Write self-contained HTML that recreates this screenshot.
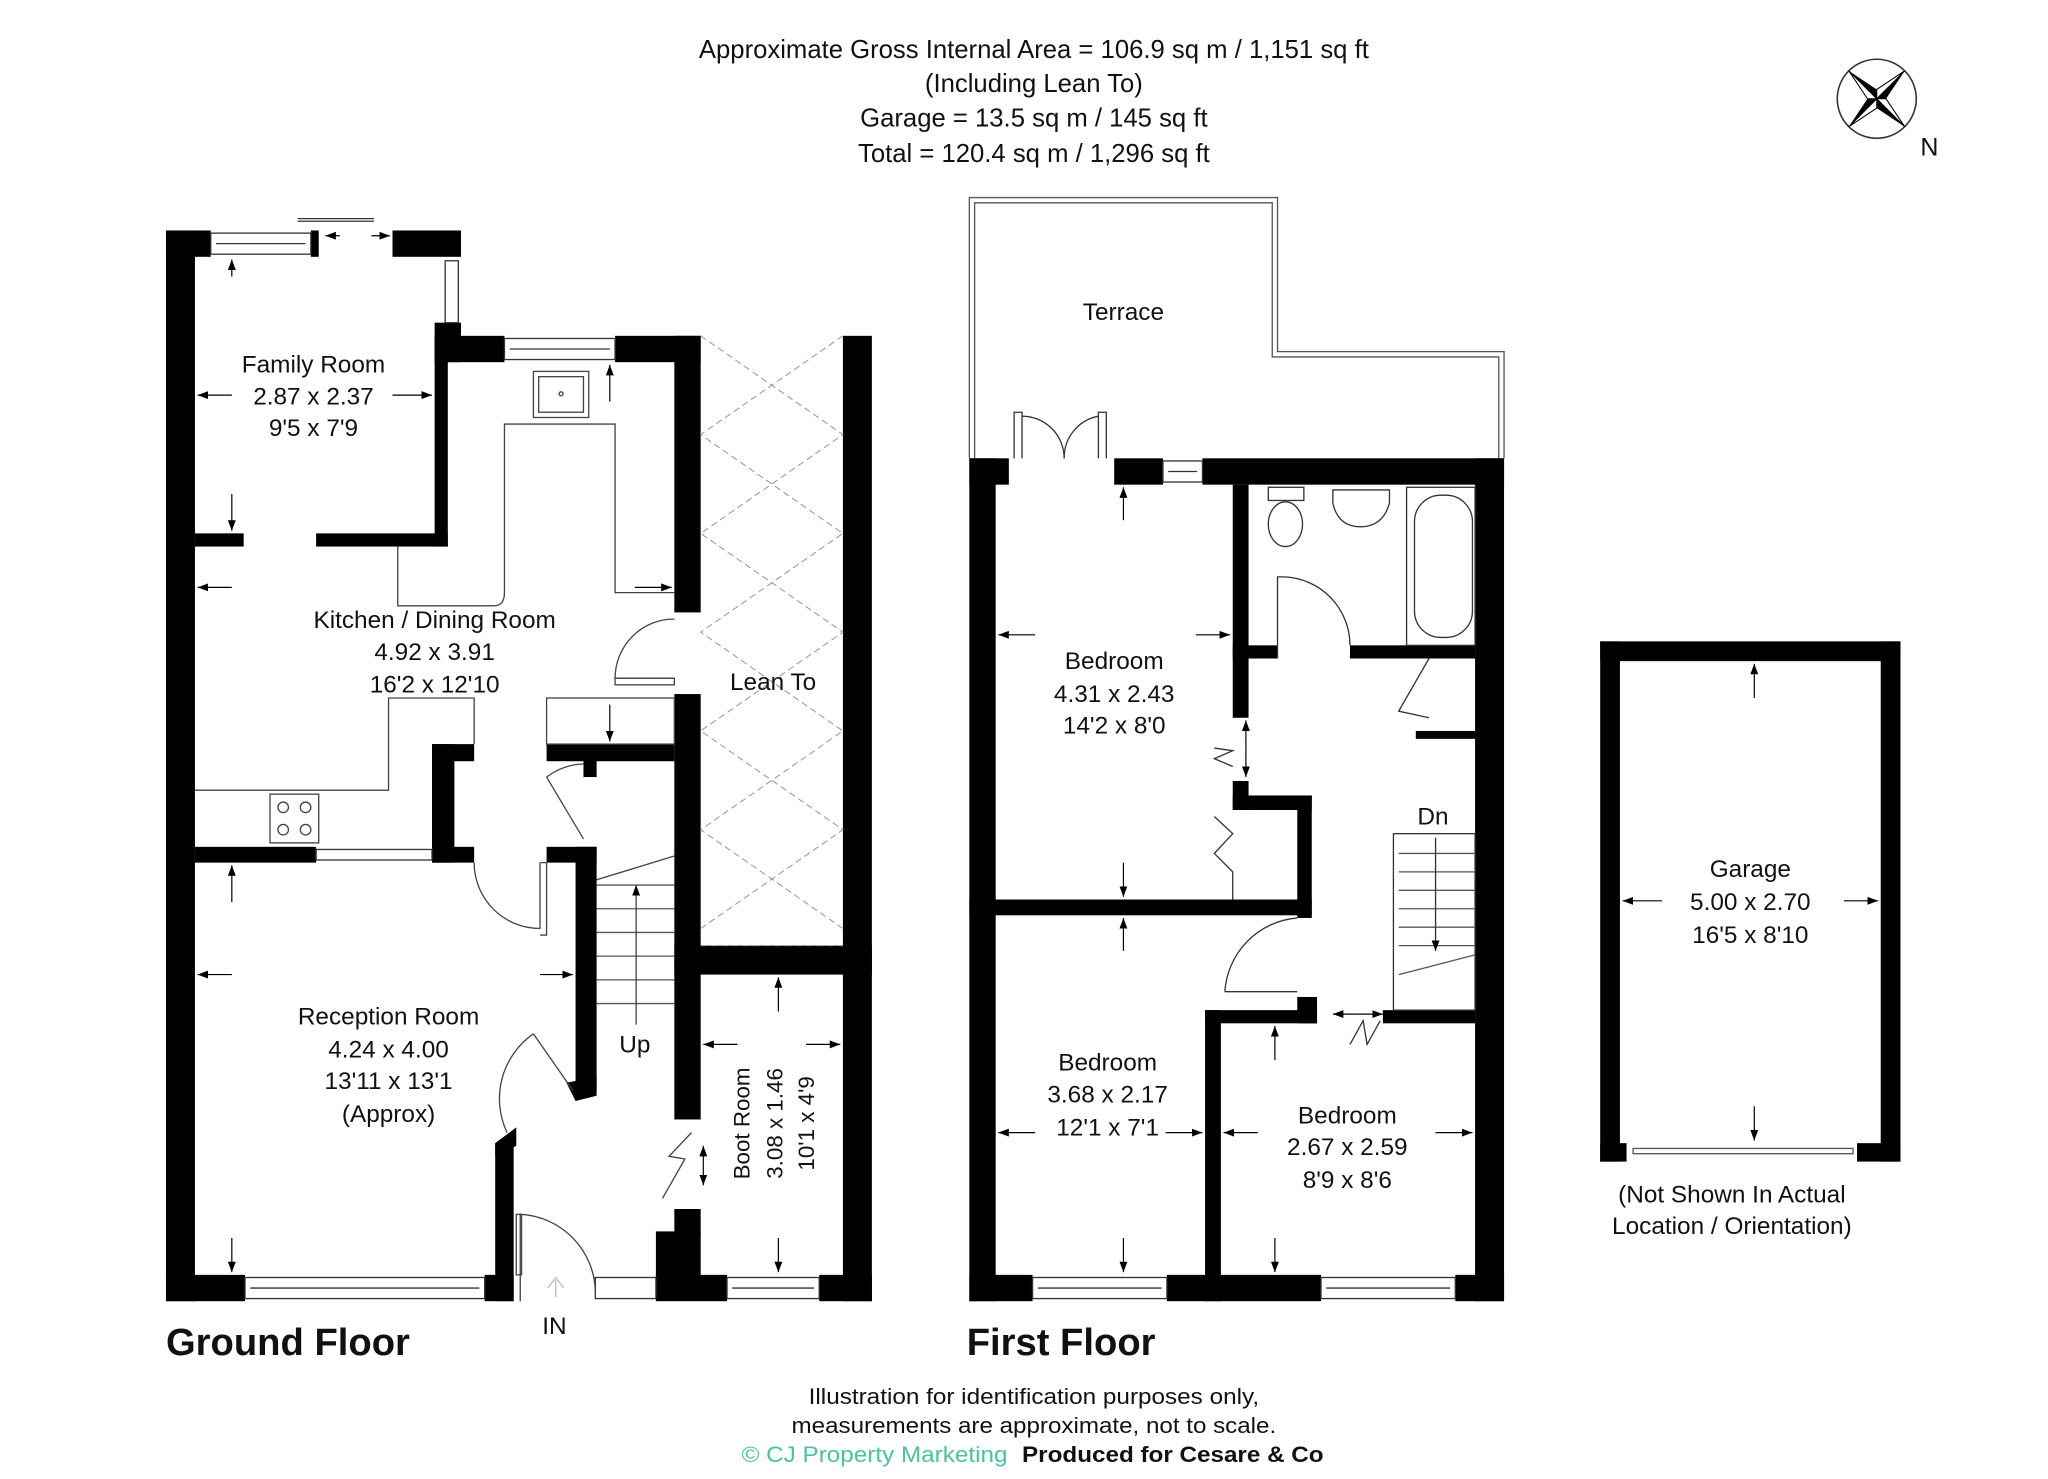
<!DOCTYPE html>
<html><head><meta charset="utf-8"><style>
html,body{margin:0;padding:0;background:#fff;}
svg{display:block;}
text{font-family:"Liberation Sans",Arial,sans-serif;fill:#111;}
</style></head><body>
<svg width="2048" height="1479" viewBox="0 0 1555 1123" xmlns="http://www.w3.org/2000/svg">
<defs>
<marker id="ah" markerWidth="8" markerHeight="6" refX="8" refY="3" orient="auto" markerUnits="userSpaceOnUse"><path d="M0,0 L8,3 L0,6 z" fill="#000"/></marker>
</defs>
<rect width="1555" height="1123" fill="#fff"/>

<!-- Header -->
<g font-size="19.5" text-anchor="middle">
<text x="785" y="44">Approximate Gross Internal Area = 106.9 sq m / 1,151 sq ft</text>
<text x="785" y="70">(Including Lean To)</text>
<text x="785" y="96">Garage = 13.5 sq m / 145 sq ft</text>
<text x="785" y="123">Total = 120.4 sq m / 1,296 sq ft</text>
</g>

<!-- Compass -->
<g transform="translate(1425,75)">
<circle r="30" fill="none" stroke="#333" stroke-width="1.2"/>
<g transform="rotate(-45)">
<path d="M0,-30 L5,-5 L0,0 z M0,30 L-5,5 L0,0 z M-30,0 L-5,-5 L0,0 z M30,0 L5,5 L0,0z" fill="#000"/>
<path d="M0,-30 L-5,-5 L0,0 z M0,30 L5,5 L0,0 z M-30,0 L-5,5 L0,0 z M30,0 L5,-5 L0,0z" fill="#fff" stroke="#000" stroke-width="0.8"/>
</g>
</g>
<text x="1465" y="118" font-size="19" text-anchor="middle">N</text>

<!-- ================= GROUND FLOOR ================= -->
<g fill="#000">
<!-- left wall -->
<rect x="126" y="175" width="22" height="813"/>
<!-- family top -->
<rect x="126" y="175" width="34" height="20"/>
<rect x="236" y="175" width="6" height="20"/>
<rect x="298" y="175" width="52" height="20"/>
<rect x="330" y="245" width="20" height="30"/>
<rect x="330" y="255" width="10" height="160"/>
<!-- kitchen top -->
<rect x="330" y="255" width="53" height="20"/>
<rect x="467" y="255" width="65" height="20"/>
<rect x="512" y="255" width="20" height="210"/>
<rect x="512" y="527" width="20" height="323"/>
<!-- lean-to right wall -->
<rect x="640" y="255" width="22" height="733"/>
<!-- boot room top -->
<rect x="512" y="718" width="150" height="22"/>
<!-- family/kitchen divider -->
<rect x="148" y="405" width="37" height="10"/>
<rect x="240" y="405" width="100" height="10"/>
<!-- kitchen bottom -->
<rect x="148" y="643" width="92" height="12"/>
<rect x="328" y="643" width="32" height="12"/>
<rect x="328" y="565" width="17" height="90"/>
<rect x="328" y="565" width="32" height="13"/>
<rect x="415" y="565" width="97" height="13"/>
<rect x="443" y="565" width="10" height="25"/>
<rect x="415" y="643" width="38" height="12"/>
<rect x="437" y="643" width="16" height="185"/>
<path d="M430,822 L453,818 L453,832 L437,836 z"/>
<!-- reception lower right -->
<rect x="376" y="868" width="14" height="120"/>
<path d="M376,868 L392,856 L392,870 L376,878z"/>
<!-- bottom wall -->
<rect x="126" y="968" width="60" height="20"/>
<rect x="368" y="968" width="22" height="20"/>
<rect x="498" y="968" width="54" height="20"/>
<rect x="622" y="968" width="40" height="20"/>
<rect x="498" y="935" width="34" height="35"/>
<rect x="512" y="918" width="20" height="20"/>
</g>
<!-- windows GF -->
<g fill="#fff" stroke="#333" stroke-width="1">
<rect x="160" y="177" width="76" height="16"/>
<rect x="383" y="257" width="84" height="16"/>
<rect x="186" y="970" width="182" height="16"/>
<rect x="452" y="970" width="46" height="16"/>
<rect x="552" y="970" width="70" height="16"/>
<rect x="240" y="645" width="88" height="8"/>
<rect x="338" y="198" width="10" height="47"/>
</g>
<g stroke="#333" stroke-width="1" fill="none">
<line x1="164" y1="185" x2="232" y2="185"/>
<line x1="387" y1="265" x2="463" y2="265"/>
<line x1="190" y1="978" x2="364" y2="978"/>
<line x1="556" y1="978" x2="618" y2="978"/>
<line x1="226" y1="168" x2="284" y2="168"/>
<line x1="226" y1="166" x2="284" y2="166"/>
</g>
<!-- lean-to dashed cross hatch -->
<g stroke="#999" stroke-width="0.8" stroke-dasharray="5,3" fill="none">
<path d="M532,255 L640,330 L532,405 L640,480 L532,555 L640,630 L532,705"/>
<path d="M640,255 L532,330 L640,405 L532,480 L640,555 L532,630 L640,705"/>
<line x1="532" y1="718" x2="640" y2="718"/>
</g>
<!-- kitchen fittings -->
<g stroke="#444" stroke-width="1" fill="none">
<path d="M302,415 L302,460 L375,460 Q383,460 383,450 L383,322 L467,322 L467,450 L512,450"/>
<path d="M148,600 L295,600 L295,530 L360,530 L360,565"/>
<rect x="415" y="530" width="97" height="35"/>
<rect x="405" y="282" width="42" height="35"/>
<rect x="409" y="286" width="34" height="27"/>
<circle cx="426" cy="299" r="1.5"/>
<rect x="205" y="603" width="37" height="37"/>
<circle cx="215" cy="613" r="4"/><circle cx="232" cy="613" r="4"/>
<circle cx="215" cy="630" r="4"/><circle cx="232" cy="630" r="4"/>
<!-- doors -->
<path d="M512,470 A45,45 0 0 0 467,515 L512,515"/>
<rect x="467" y="515" width="45" height="5"/>
<path d="M415,590 L443,637 M415,590 A50,50 0 0 1 443,580"/>
<path d="M360,655 A50,50 0 0 0 410,705 L410,655 M410,655 L415,655 L415,710 L410,710"/>
<path d="M405,785 L435,828 M405,785 A60,60 0 0 0 385,860"/>
<path d="M395,922 L395,988 M395,922 A60,60 0 0 1 452,980"/>
<rect x="392" y="922" width="4" height="46"/>
<!-- stairs -->
<path d="M453,668 L512,650"/>
<g stroke="#555">
<line x1="453" y1="672" x2="512" y2="672"/>
<line x1="453" y1="690" x2="512" y2="690"/>
<line x1="453" y1="708" x2="512" y2="708"/>
<line x1="453" y1="726" x2="512" y2="726"/>
<line x1="453" y1="744" x2="512" y2="744"/>
<line x1="453" y1="762" x2="512" y2="762"/>
</g>
<line x1="483" y1="778" x2="483" y2="672" marker-end="url(#ah)"/>
<path d="M503,910 L520,880 L508,878 L525,860" stroke-width="1"/>
<path d="M422,985 L422,972 M416,978 L422,970 L428,978" stroke="#bbb"/>
</g>
<!-- dimension arrows GF -->
<g stroke="#000" stroke-width="0.9" fill="none" marker-end="url(#ah)">
<line x1="176" y1="210" x2="176" y2="197"/>
<line x1="176" y1="375" x2="176" y2="403"/>
<line x1="176" y1="300" x2="150" y2="300"/>
<line x1="298" y1="300" x2="328" y2="300"/>
<line x1="176" y1="446" x2="150" y2="446"/>
<line x1="482" y1="446" x2="510" y2="446"/>
<line x1="463" y1="305" x2="463" y2="277"/>
<line x1="463" y1="535" x2="463" y2="563"/>
<line x1="176" y1="685" x2="176" y2="657"/>
<line x1="176" y1="740" x2="150" y2="740"/>
<line x1="410" y1="740" x2="435" y2="740"/>
<line x1="176" y1="940" x2="176" y2="966"/>
<line x1="591" y1="768" x2="591" y2="742"/>
<line x1="591" y1="940" x2="591" y2="966"/>
<line x1="560" y1="793" x2="534" y2="793"/>
<line x1="612" y1="793" x2="638" y2="793"/>
<line x1="534" y1="885" x2="534" y2="870"/>
<line x1="534" y1="885" x2="534" y2="900"/>
<line x1="258" y1="179" x2="247" y2="179"/>
<line x1="282" y1="179" x2="296" y2="179"/>
</g>
<!-- GF labels -->
<g font-size="18.5" text-anchor="middle">
<text x="238" y="283">Family Room</text>
<text x="238" y="307">2.87 x 2.37</text>
<text x="238" y="331">9'5 x 7'9</text>
<text x="330" y="477">Kitchen / Dining Room</text>
<text x="330" y="501">4.92 x 3.91</text>
<text x="330" y="526">16'2 x 12'10</text>
<text x="587" y="524">Lean To</text>
<text x="295" y="778">Reception Room</text>
<text x="295" y="803">4.24 x 4.00</text>
<text x="295" y="827">13'11 x 13'1</text>
<text x="295" y="852">(Approx)</text>
<text x="482" y="799">Up</text>
<text x="421" y="1013">IN</text>
<g font-size="17">
<text transform="translate(569,853) rotate(-90)">Boot Room</text>
<text transform="translate(594,853) rotate(-90)">3.08 x 1.46</text>
<text transform="translate(618,853) rotate(-90)">10'1 x 4'9</text>
</g>
</g>
<text x="126" y="1029" font-size="29" font-weight="bold">Ground Floor</text>

<!-- ================= FIRST FLOOR ================= -->
<g fill="none" stroke="#555" stroke-width="1">
<path d="M736,348 L736,150 L970,150 L970,267 L1142,267 L1142,348"/>
<path d="M740,348 L740,154 L966,154 L966,271 L1138,271 L1138,348"/>
</g>
<g fill="#000">
<rect x="736" y="348" width="30" height="20"/>
<rect x="846" y="348" width="37" height="20"/>
<rect x="913" y="348" width="229" height="20"/>
<rect x="736" y="348" width="20" height="640"/>
<rect x="1120" y="348" width="22" height="640"/>
<rect x="736" y="968" width="48" height="20"/>
<rect x="886" y="968" width="117" height="20"/>
<rect x="1105" y="968" width="37" height="20"/>
<rect x="936" y="368" width="12" height="177"/>
<rect x="936" y="593" width="12" height="22"/>
<rect x="936" y="604" width="60" height="11"/>
<rect x="985" y="604" width="11" height="93"/>
<rect x="736" y="683" width="260" height="12"/>
<rect x="936" y="490" width="34" height="10"/>
<rect x="1025" y="490" width="95" height="10"/>
<rect x="1075" y="555" width="45" height="6"/>
<rect x="915" y="767" width="12" height="221"/>
<rect x="915" y="767" width="85" height="10"/>
<rect x="985" y="757" width="15" height="20"/>
<rect x="1050" y="767" width="70" height="10"/>
</g>
<g fill="#fff" stroke="#333" stroke-width="1">
<rect x="883" y="350" width="30" height="16"/>
<rect x="784" y="970" width="102" height="16"/>
<rect x="1003" y="970" width="102" height="16"/>
</g>
<g stroke="#333" stroke-width="1" fill="none">
<line x1="788" y1="978" x2="882" y2="978"/>
<line x1="1007" y1="978" x2="1101" y2="978"/>
<line x1="887" y1="358" x2="909" y2="358"/>
<!-- french doors -->
<path d="M770,348 L770,313 L776,313 L776,348"/>
<path d="M776,316 A32,32 0 0 1 808,348"/>
<path d="M840,348 L840,313 L834,313 L834,348"/>
<path d="M834,316 A32,32 0 0 0 808,348"/>
<!-- bathroom -->
<rect x="963" y="370" width="27" height="10"/>
<ellipse cx="976" cy="398" rx="13" ry="17"/>
<path d="M1012,372 L1055,372 L1055,382 Q1050,400 1033,400 Q1016,400 1012,382z"/>
<rect x="1068" y="370" width="52" height="120"/>
<rect x="1074" y="376" width="44" height="108" rx="20"/>
<path d="M970,500 L970,438 L975,438 A52,52 0 0 1 1025,490"/>
<path d="M1085,500 L1062,540 L1085,545"/>
<!-- landing doors -->
<path d="M930,753 A60,60 0 0 1 985,697 M930,753 L985,753"/>
<path d="M922,620 L936,633 L922,648 L936,662 L936,683"/>
<path d="M922,568 L936,570 L922,576 L936,582"/>
<path d="M1025,793 L1035,775 L1038,793 L1048,775"/>
<!-- stairs -->
<rect x="1058" y="633" width="62" height="134"/>
<g stroke="#555">
<line x1="1062" y1="648" x2="1120" y2="648"/>
<line x1="1062" y1="662" x2="1120" y2="662"/>
<line x1="1062" y1="676" x2="1120" y2="676"/>
<line x1="1062" y1="690" x2="1120" y2="690"/>
<line x1="1062" y1="704" x2="1120" y2="704"/>
<line x1="1062" y1="718" x2="1120" y2="718"/>
<line x1="1062" y1="740" x2="1120" y2="725"/>
</g>
<line x1="1090" y1="636" x2="1090" y2="722" marker-end="url(#ah)"/>
</g>
<g stroke="#000" stroke-width="0.9" fill="none" marker-end="url(#ah)">
<line x1="853" y1="395" x2="853" y2="370"/>
<line x1="786" y1="482" x2="758" y2="482"/>
<line x1="908" y1="482" x2="934" y2="482"/>
<line x1="853" y1="655" x2="853" y2="681"/>
<line x1="853" y1="722" x2="853" y2="697"/>
<line x1="946" y1="568" x2="946" y2="547"/>
<line x1="946" y1="568" x2="946" y2="590"/>
<line x1="786" y1="860" x2="758" y2="860"/>
<line x1="885" y1="860" x2="913" y2="860"/>
<line x1="955" y1="860" x2="929" y2="860"/>
<line x1="1090" y1="860" x2="1118" y2="860"/>
<line x1="853" y1="940" x2="853" y2="966"/>
<line x1="968" y1="805" x2="968" y2="779"/>
<line x1="968" y1="940" x2="968" y2="966"/>
<line x1="1032" y1="770" x2="1012" y2="770"/>
<line x1="1032" y1="770" x2="1050" y2="770"/>
</g>
<g font-size="18.5" text-anchor="middle">
<text x="853" y="243">Terrace</text>
<text x="846" y="508">Bedroom</text>
<text x="846" y="533">4.31 x 2.43</text>
<text x="846" y="557">14'2 x 8'0</text>
<text x="841" y="813">Bedroom</text>
<text x="841" y="837">3.68 x 2.17</text>
<text x="841" y="862">12'1 x 7'1</text>
<text x="1023" y="853">Bedroom</text>
<text x="1023" y="877">2.67 x 2.59</text>
<text x="1023" y="902">8'9 x 8'6</text>
<text x="1088" y="626">Dn</text>
</g>
<text x="734" y="1029" font-size="29" font-weight="bold">First Floor</text>

<!-- ================= GARAGE ================= -->
<g fill="#000">
<rect x="1215" y="487" width="228" height="15"/>
<rect x="1215" y="487" width="15" height="395"/>
<rect x="1428" y="487" width="15" height="395"/>
<rect x="1215" y="868" width="20" height="14"/>
<rect x="1410" y="868" width="33" height="14"/>
</g>
<rect x="1240" y="872" width="167" height="4" fill="#fff" stroke="#555" stroke-width="1"/>
<g stroke="#000" stroke-width="0.9" fill="none" marker-end="url(#ah)">
<line x1="1332" y1="530" x2="1332" y2="504"/>
<line x1="1332" y1="840" x2="1332" y2="866"/>
<line x1="1262" y1="684" x2="1232" y2="684"/>
<line x1="1400" y1="684" x2="1426" y2="684"/>
</g>
<g font-size="18.5" text-anchor="middle">
<text x="1329" y="666">Garage</text>
<text x="1329" y="691">5.00 x 2.70</text>
<text x="1329" y="716">16'5 x 8'10</text>
<text x="1315" y="913">(Not Shown In Actual</text>
<text x="1315" y="937">Location / Orientation)</text>
</g>

<!-- footer -->
<g font-size="17" text-anchor="middle">
<text x="785" y="1066" textLength="342" lengthAdjust="spacingAndGlyphs">Illustration for identification purposes only,</text>
<text x="785" y="1088" textLength="368" lengthAdjust="spacingAndGlyphs">measurements are approximate, not to scale.</text>
</g>
<text x="563" y="1110" font-size="17" style="fill:#4cc0a0" textLength="202" lengthAdjust="spacingAndGlyphs">© CJ Property Marketing</text>
<text x="776" y="1110" font-size="17" font-weight="bold" textLength="229" lengthAdjust="spacingAndGlyphs">Produced for Cesare &amp; Co</text>
</svg>
</body></html>
